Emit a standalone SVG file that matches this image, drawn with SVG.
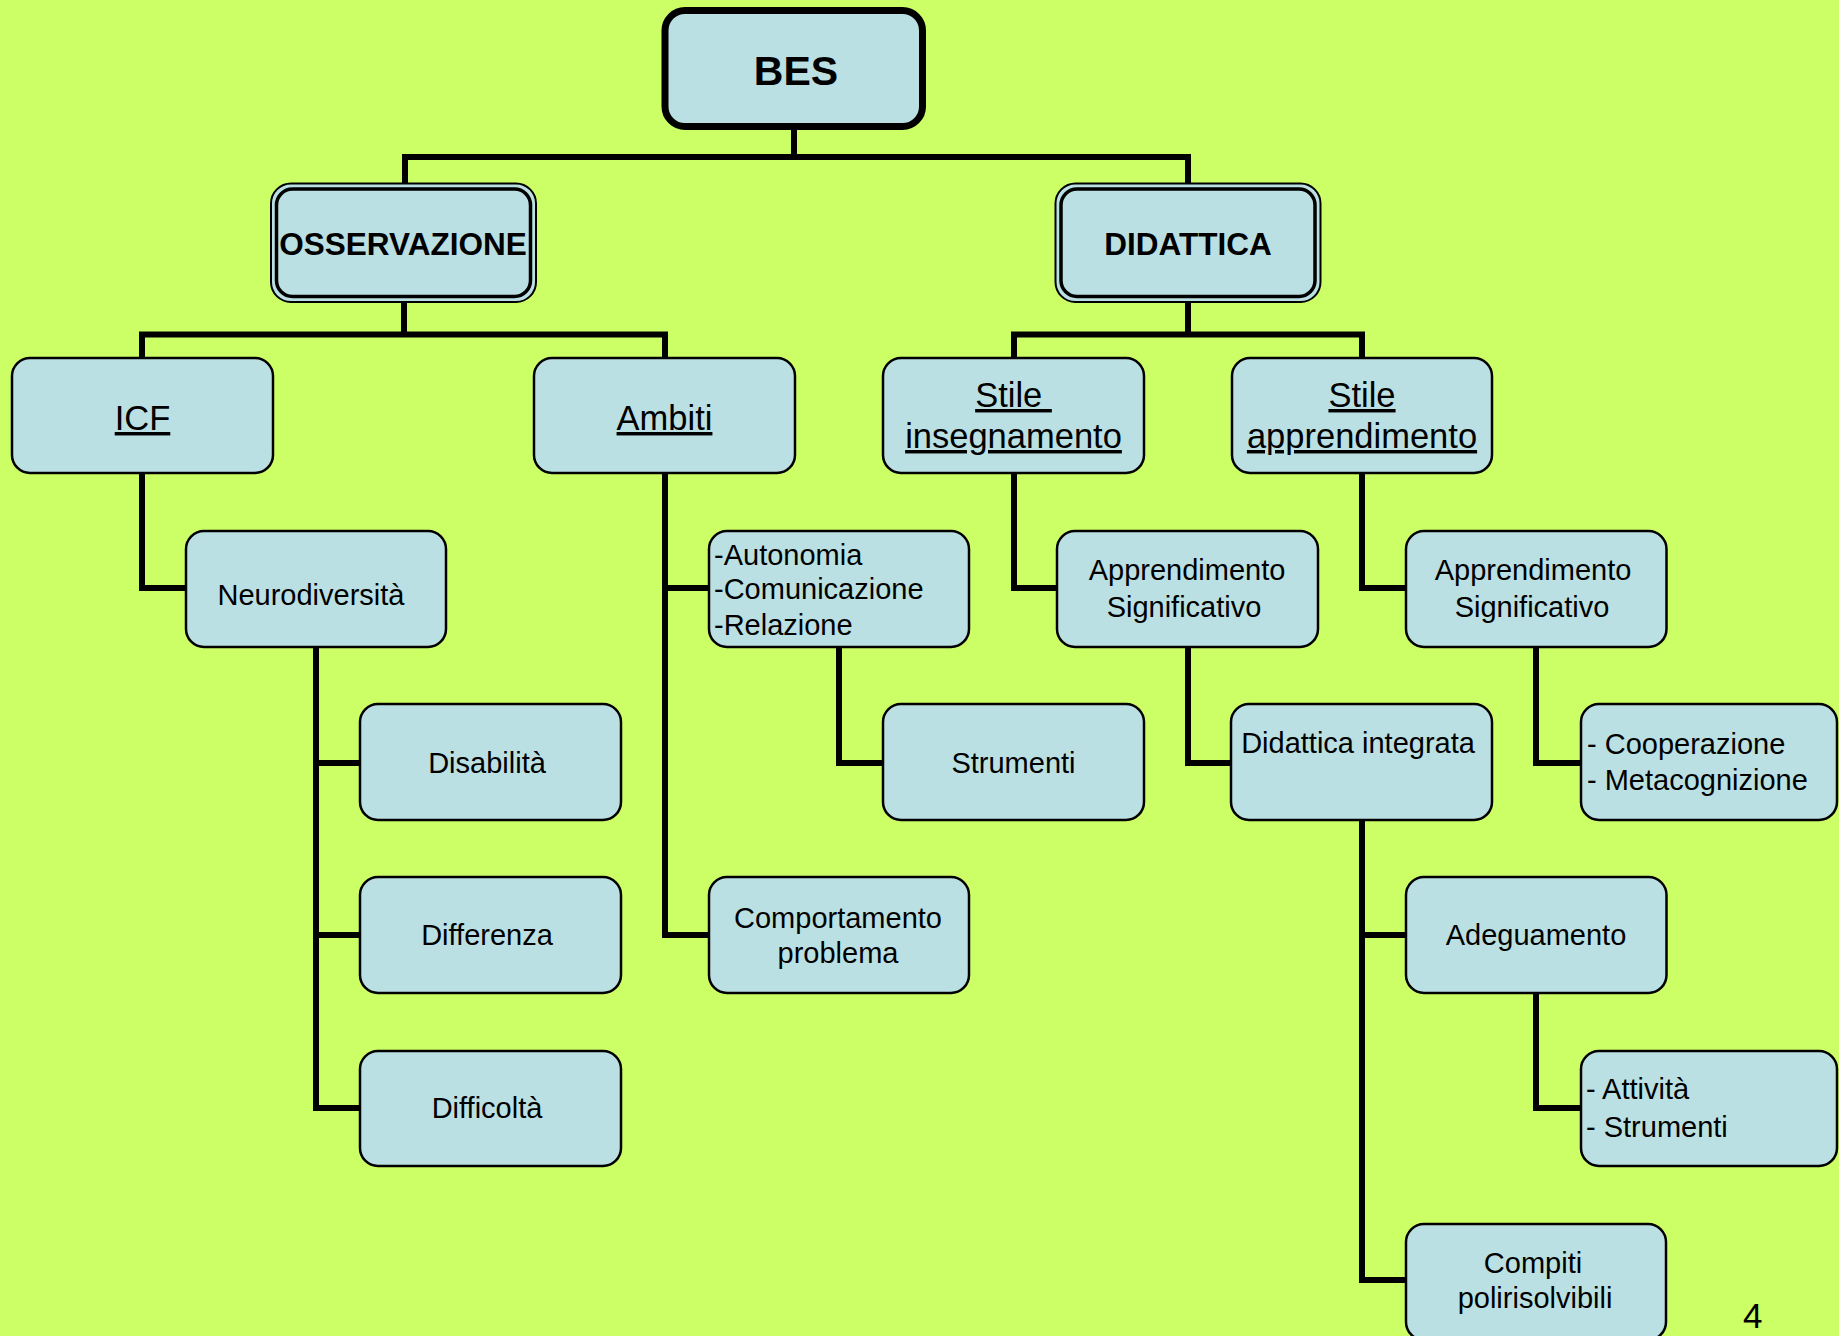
<svg xmlns="http://www.w3.org/2000/svg" width="1839" height="1336" viewBox="0 0 1839 1336">
<style>
.bg{fill:#CCFF66}
.box{fill:#BBE0E3;stroke:#000;stroke-width:2.5}
.outer{fill:#BBE0E3;stroke:#000;stroke-width:2}
.inner{fill:#BBE0E3;stroke:#000;stroke-width:3.5}
.root{fill:#BBE0E3;stroke:#000;stroke-width:7}
.con{fill:none;stroke:#000;stroke-width:6;stroke-linejoin:miter;stroke-linecap:square}
text{font-family:"Liberation Sans",Arial,sans-serif;fill:#000}
.t1{font-size:41px;font-weight:bold;text-anchor:middle}
.t2{font-size:31.5px;font-weight:bold;text-anchor:middle}
.t3{font-size:34.5px;text-anchor:middle;text-decoration:underline}
.t4{font-size:29px;text-anchor:middle}
.tl{font-size:29px;text-anchor:start}
.pg{font-size:35px}
</style>
<rect class="bg" x="0" y="0" width="1839" height="1336"/>
<g id="connectors">
<path class="con" d="M794 127 V157 M405 182 V157 H1188 V182"/>
<path class="con" d="M404 302 V334.5 M142 358 V334.5 H665 V358"/>
<path class="con" d="M1188 302 V334.5 M1014 358 V334.5 H1362 V358"/>
<path class="con" d="M142 473 V588 H186"/>
<path class="con" d="M316 647 V1108 H360 M316 763 H360 M316 935 H360"/>
<path class="con" d="M665 473 V935 H709 M665 588 H709"/>
<path class="con" d="M839 647 V763 H883"/>
<path class="con" d="M1014 473 V588 H1057"/>
<path class="con" d="M1362 473 V588 H1406"/>
<path class="con" d="M1188 647 V763 H1231"/>
<path class="con" d="M1536 647 V763 H1581"/>
<path class="con" d="M1362 820 V1280 H1406 M1362 935 H1406"/>
<path class="con" d="M1536 993 V1108 H1581"/>
</g>
<g id="node-bes">
<rect class="root" x="665" y="10.5" width="257.5" height="116" rx="20"/>
<text class="t1" x="796" y="85">BES</text>
</g>
<g id="node-osservazione">
<rect class="outer" x="271" y="183.5" width="265" height="118.5" rx="20"/>
<rect class="inner" x="276.5" y="189" width="254" height="107.5" rx="16"/>
<text class="t2" x="403" y="255">OSSERVAZIONE</text>
</g>
<g id="node-didattica">
<rect class="outer" x="1055.5" y="183.5" width="265" height="118.5" rx="20"/>
<rect class="inner" x="1061" y="189" width="254" height="107.5" rx="16"/>
<text class="t2" x="1188" y="255">DIDATTICA</text>
</g>
<g id="node-icf">
<rect class="box" x="12" y="358" width="261" height="115" rx="18"/>
<text class="t3" x="142.5" y="430">ICF</text>
</g>
<g id="node-ambiti">
<rect class="box" x="534" y="358" width="261" height="115" rx="18"/>
<text class="t3" x="664.5" y="430">Ambiti</text>
</g>
<g id="node-stile-insegnamento">
<rect class="box" x="883" y="358" width="261" height="115" rx="18"/>
<text class="t3" x="1013.5" y="407" xml:space="preserve">Stile </text>
<text class="t3" x="1013.5" y="448">insegnamento</text>
</g>
<g id="node-stile-apprendimento">
<rect class="box" x="1232" y="358" width="260" height="115" rx="18"/>
<text class="t3" x="1362" y="407">Stile</text>
<text class="t3" x="1362" y="448">apprendimento</text>
</g>
<g id="node-neurodiversita">
<rect class="box" x="186" y="531" width="260" height="116" rx="18"/>
<text class="t4" x="311" y="605">Neurodiversità</text>
</g>
<g id="node-ambiti-list">
<rect class="box" x="709" y="531" width="260" height="116" rx="18"/>
<text class="tl" x="714" y="565">-Autonomia</text>
<text class="tl" x="714" y="599">-Comunicazione</text>
<text class="tl" x="714" y="635">-Relazione</text>
</g>
<g id="node-apprendimento-1">
<rect class="box" x="1057" y="531" width="261" height="116" rx="18"/>
<text class="t4" x="1187" y="580">Apprendimento</text>
<text class="t4" x="1184" y="617">Significativo</text>
</g>
<g id="node-apprendimento-2">
<rect class="box" x="1406" y="531" width="260.5" height="116" rx="18"/>
<text class="t4" x="1533" y="580">Apprendimento</text>
<text class="t4" x="1532" y="617">Significativo</text>
</g>
<g id="node-disabilita">
<rect class="box" x="360" y="704" width="261" height="116" rx="18"/>
<text class="t4" x="487" y="773">Disabilità</text>
</g>
<g id="node-strumenti">
<rect class="box" x="883" y="704" width="261" height="116" rx="18"/>
<text class="t4" x="1013.5" y="773">Strumenti</text>
</g>
<g id="node-didattica-integrata">
<rect class="box" x="1231" y="704" width="261" height="116" rx="18"/>
<text class="t4" x="1358" y="753">Didattica integrata</text>
</g>
<g id="node-cooperazione">
<rect class="box" x="1581" y="704" width="256" height="116" rx="18"/>
<text class="tl" x="1587" y="754">- Cooperazione</text>
<text class="tl" x="1587" y="790">- Metacognizione</text>
</g>
<g id="node-differenza">
<rect class="box" x="360" y="877" width="261" height="116" rx="18"/>
<text class="t4" x="487" y="945">Differenza</text>
</g>
<g id="node-comportamento">
<rect class="box" x="709" y="877" width="260" height="116" rx="18"/>
<text class="t4" x="838" y="928">Comportamento</text>
<text class="t4" x="838" y="963">problema</text>
</g>
<g id="node-adeguamento">
<rect class="box" x="1406" y="877" width="260.5" height="116" rx="18"/>
<text class="t4" x="1536" y="945">Adeguamento</text>
</g>
<g id="node-difficolta">
<rect class="box" x="360" y="1051" width="261" height="115" rx="18"/>
<text class="t4" x="487" y="1118">Difficoltà</text>
</g>
<g id="node-attivita">
<rect class="box" x="1581" y="1051" width="256" height="115" rx="18"/>
<text class="tl" x="1586" y="1099">- Attività</text>
<text class="tl" x="1586" y="1137">- Strumenti</text>
</g>
<g id="node-compiti">
<rect class="box" x="1406" y="1224" width="260" height="116" rx="18"/>
<text class="t4" x="1533" y="1273">Compiti</text>
<text class="t4" x="1535" y="1308">polirisolvibili</text>
</g>
<text class="pg" x="1743" y="1328">4</text>
</svg>
